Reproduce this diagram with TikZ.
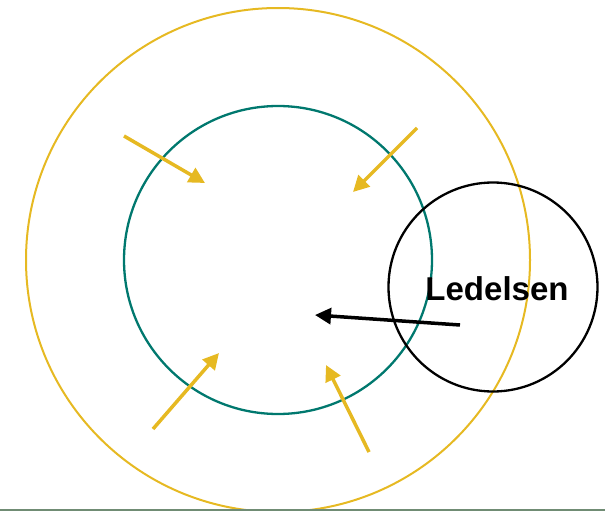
\documentclass[tikz,border=0pt]{standalone}
\usepackage{fontspec}
\setmainfont{Liberation Sans}
\usetikzlibrary{arrows.meta}
\definecolor{gold}{HTML}{E6B922}
\definecolor{teal}{HTML}{00786E}
\definecolor{groundgreen}{HTML}{708C74}
\tikzset{
    ring/.style={circle, draw, inner sep=0pt},
    push/.style={gold, line width=3.5pt, -{Triangle[length=16pt, width=16pt]}},
}
\begin{document}
\begin{tikzpicture}[x=1pt, y=-1pt]
    \useasboundingbox (0,0) rectangle (605,511);

    \node[ring, gold, line width=2pt, minimum size=504pt] (outer) at (278,260) {};
    \node[ring, teal, line width=2.3pt, minimum size=308pt] (inner) at (278,260) {};
    \node[ring, black, line width=2.3pt, minimum size=209pt,
          font=\bfseries\fontsize{33}{36}\selectfont, text depth=0pt] (lead) at (493,287) {\raisebox{-3pt}{\hspace{8pt}Ledelsen}};

    % arrows towards the middle
    \coordinate (a1) at (124,136);  \coordinate (b1) at (205,183);
    \coordinate (a2) at (417,128);  \coordinate (b2) at (353,192);
    \coordinate (a3) at (153,429);  \coordinate (b3) at (219,353);
    \coordinate (a4) at (369,452);  \coordinate (b4) at (326,365);
    \foreach \i in {1,...,4}
        \draw[push] (a\i) -- (b\i);

    \coordinate (lstart) at (460,325);
    \coordinate (lend) at (315,315);
    \draw[line width=3.5pt, -{Triangle[length=16pt, width=16pt]}] (lstart) -- (lend);

    \draw[groundgreen, line width=1.5pt] (0,510) -- (605,510);
\end{tikzpicture}
\end{document}
